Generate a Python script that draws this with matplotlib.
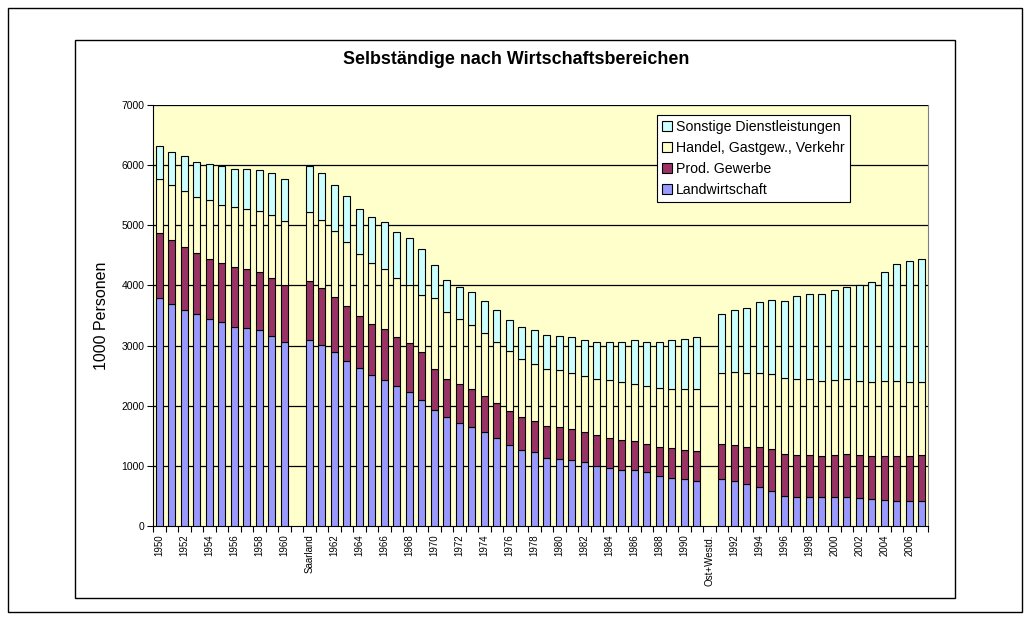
import numpy as np
import matplotlib
matplotlib.use("Agg")
import matplotlib.pyplot as plt
from matplotlib.patches import Rectangle

plt.rcParams['font.family'] = ['Liberation Sans', 'DejaVu Sans']

categories = (["1950", "1951", "1952", "1953", "1954", "1955", "1956", "1957", "1958", "1959", "1960",
               "", "Saarland"] + [str(y) for y in range(1961, 1992)] + ["Ost+Westd."] +
              [str(y) for y in range(1991, 2008)])

N = np.nan
landwirtschaft = [3790, 3695, 3595, 3520, 3440, 3390, 3315, 3300, 3260, 3165, 3060,
                  N, 3095, 3005, 2895, 2745, 2620, 2505, 2430, 2320, 2220, 2100,
                  1930, 1810, 1710, 1640, 1555, 1460, 1340, 1265, 1225, 1125,
                  1115, 1095, 1060, 1005, 970, 930, 930, 895, 835, 805, 775, 750,
                  N, 775, 740, 695, 655, 590, 500, 490, 490, 475, 475, 475, 460, 445, 435, 420, 420, 420]
prod_gewerbe = [1075, 1060, 1045, 1015, 1005, 980, 990, 970, 955, 955, 950,
                N, 980, 950, 915, 915, 865, 855, 850, 830, 820, 790,
                675, 630, 650, 635, 600, 580, 580, 555, 520, 545,
                535, 520, 505, 515, 500, 500, 485, 465, 485, 495, 490, 495,
                N, 585, 610, 625, 655, 685, 695, 690, 690, 695, 705, 715, 720, 715, 725, 750, 750, 760]
handel = [905, 915, 925, 940, 970, 975, 1000, 1005, 1030, 1045, 1055,
          N, 1140, 1135, 1100, 1060, 1030, 1015, 1000, 980, 970, 945,
          1190, 1115, 1080, 1075, 1055, 1015, 985, 960, 950, 940,
          945, 935, 930, 925, 955, 960, 950, 970, 980, 985, 1010, 1030,
          N, 1180, 1205, 1220, 1240, 1250, 1265, 1260, 1260, 1245, 1245, 1250, 1235, 1230, 1245, 1245, 1220, 1210]
sonstige = [543, 548, 580, 585, 610, 635, 635, 665, 675, 705, 710,
            N, 770, 775, 755, 765, 755, 755, 770, 765, 775, 765,
            550, 535, 535, 535, 525, 540, 525, 525, 565, 570,
            570, 585, 605, 615, 640, 670, 725, 735, 760, 805, 830, 875,
            N, 990, 1030, 1090, 1180, 1235, 1280, 1380, 1425, 1440, 1500, 1530, 1595, 1675, 1810, 1940, 2010, 2050]

series_names = ["Landwirtschaft", "Prod. Gewerbe", "Handel, Gastgew., Verkehr", "Sonstige Dienstleistungen"]
series_colors = ["#9999FF", "#993366", "#FFFFCC", "#CCFFFF"]
yticks = [0, 1000, 2000, 3000, 4000, 5000, 6000, 7000]

fig = plt.figure(figsize=(10.30, 6.19), dpi=100)
fig.patch.set_facecolor("white")

# outer frames
fig.add_artist(Rectangle((8/1030, 1-612/619), 1014/1030, 604/619, transform=fig.transFigure,
                         fill=False, edgecolor="black", linewidth=1.0))
fig.add_artist(Rectangle((75/1030, 1-598/619), 880/1030, 558/619, transform=fig.transFigure,
                         fill=False, edgecolor="black", linewidth=1.0))

ax = fig.add_axes([153/1030, 1-526/619, 775/1030, 421/619])
ax.set_facecolor("#FFFFCC")

x = np.arange(len(categories))
bottom = np.zeros(len(categories))
handles = []
for vals, name, col in zip([landwirtschaft, prod_gewerbe, handel, sonstige], series_names, series_colors):
    v = np.array(vals, dtype=float)
    b = ax.bar(x, v, width=0.55, bottom=bottom, color=col, edgecolor="black", linewidth=0.8,
               label=name, zorder=3)
    handles.append(b)
    bottom = bottom + np.nan_to_num(v)

for t in yticks[1:]:
    ax.axhline(t, color="black", linewidth=0.9, zorder=1)

ax.set_xlim(-0.5, len(categories) - 0.5)
ax.set_ylim(0, 7000)
ax.set_yticks(yticks)
ax.set_yticklabels([str(t) for t in yticks], fontsize=7.5)

ax.set_xticks(x[::2])
ax.set_xticklabels(categories[::2], rotation=90, fontsize=7)
ax.set_xticks(np.arange(-0.5, len(categories), 1), minor=True)
ax.tick_params(axis="x", which="major", length=0, pad=6)
ax.tick_params(axis="x", which="minor", length=4, width=0.8, direction="out")
ax.tick_params(axis="y", length=4, width=0.8, direction="out", pad=2)

ax.spines["top"].set_visible(False)
ax.spines["right"].set_color("#808080")
ax.spines["left"].set_linewidth(0.8)
ax.spines["bottom"].set_linewidth(0.8)

ax.set_ylabel("1000 Personen", fontsize=11.5, labelpad=9)

fig.text(516/1030, 1-60/619, "Selbständige nach Wirtschaftsbereichen", ha="center", va="center",
         fontsize=12.9, fontweight="bold")

leg = ax.legend(handles[::-1], series_names[::-1], loc="lower left",
                bbox_to_anchor=((657-153)/775, (526-202)/421), fontsize=10.2,
                frameon=True, fancybox=False, edgecolor="black", framealpha=1,
                handlelength=0.7, handleheight=0.7, handletextpad=0.3, labelspacing=0.5,
                borderpad=0.35, borderaxespad=0)
leg.get_frame().set_linewidth(0.8)

fig.savefig("out.png", dpi=100)
